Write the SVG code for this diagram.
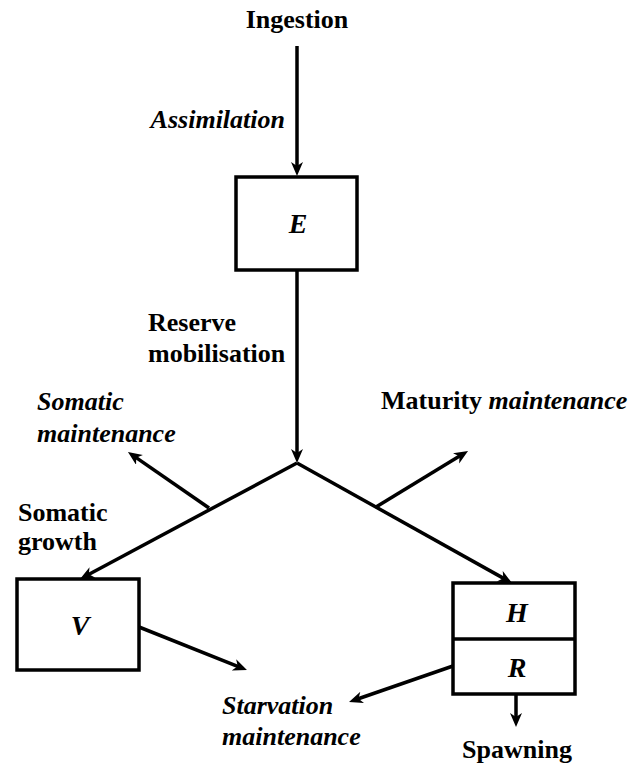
<svg xmlns="http://www.w3.org/2000/svg" width="636" height="767" viewBox="0 0 636 767">
<style>
.t{font-weight:bold;font-size:26px;fill:#000}
.it{font-style:italic}
.box{fill:#fff;stroke:#000;stroke-width:3.5}
.ln{fill:none;stroke:#000;stroke-width:3.5}
.var{font-size:28px;font-style:italic;text-anchor:middle}
</style>
<defs>
<marker id="ah" markerUnits="userSpaceOnUse" markerWidth="16" markerHeight="14" refX="8" refY="6" orient="auto">
<path d="M0,0 L14,6 L0,12 L4,6 z" fill="#000"/>
</marker>
</defs>
<g id="connectors">
<path class="ln" d="M297,46 L297,170" marker-end="url(#ah)"/>
<path class="ln" d="M297,270 L297,457" marker-end="url(#ah)"/>
<path class="ln" d="M297,463 L85.3,576.2" marker-end="url(#ah)"/>
<path class="ln" d="M297,463 L506.8,580.1" marker-end="url(#ah)"/>
<path class="ln" d="M209,508 L132.9,455.4" marker-end="url(#ah)"/>
<path class="ln" d="M376,507 L462.9,454.1" marker-end="url(#ah)"/>
<path class="ln" d="M139,627 L241.4,667.8" marker-end="url(#ah)"/>
<path class="ln" d="M453,666 L354.7,700" marker-end="url(#ah)"/>
<path class="ln" d="M516,694 L516,721" marker-end="url(#ah)"/>
</g>
<g font-family="Liberation Serif, Times New Roman, serif">
<g id="node-E">
<rect class="box" x="236" y="177" width="121" height="93"/>
<text class="t var" x="298" y="233">E</text>
</g>
<g id="node-V">
<rect class="box" x="17" y="579" width="122" height="91"/>
<text class="t var" x="80" y="635">V</text>
</g>
<g id="node-HR">
<rect class="box" x="453" y="583" width="122" height="111"/>
<line class="ln" x1="453" y1="639" x2="575" y2="639"/>
<text class="t var" x="517" y="622">H</text>
<text class="t var" x="517" y="677">R</text>
</g>
<g id="labels">
<text class="t" x="297" y="28" text-anchor="middle">Ingestion</text>
<text class="t it" x="285" y="128" text-anchor="end">Assimilation</text>
<text class="t" x="148" y="331">Reserve</text>
<text class="t" x="148" y="362">mobilisation</text>
<text class="t it" x="37" y="410">Somatic</text>
<text class="t it" x="37" y="442">maintenance</text>
<text class="t" x="381" y="409">Maturity <tspan class="it">maintenance</tspan></text>
<text class="t" x="18" y="521">Somatic</text>
<text class="t" x="18" y="550">growth</text>
<text class="t it" x="222" y="714">Starvation</text>
<text class="t it" x="222" y="745">maintenance</text>
<text class="t" x="517" y="758" text-anchor="middle">Spawning</text>
</g>
</g>
</svg>
